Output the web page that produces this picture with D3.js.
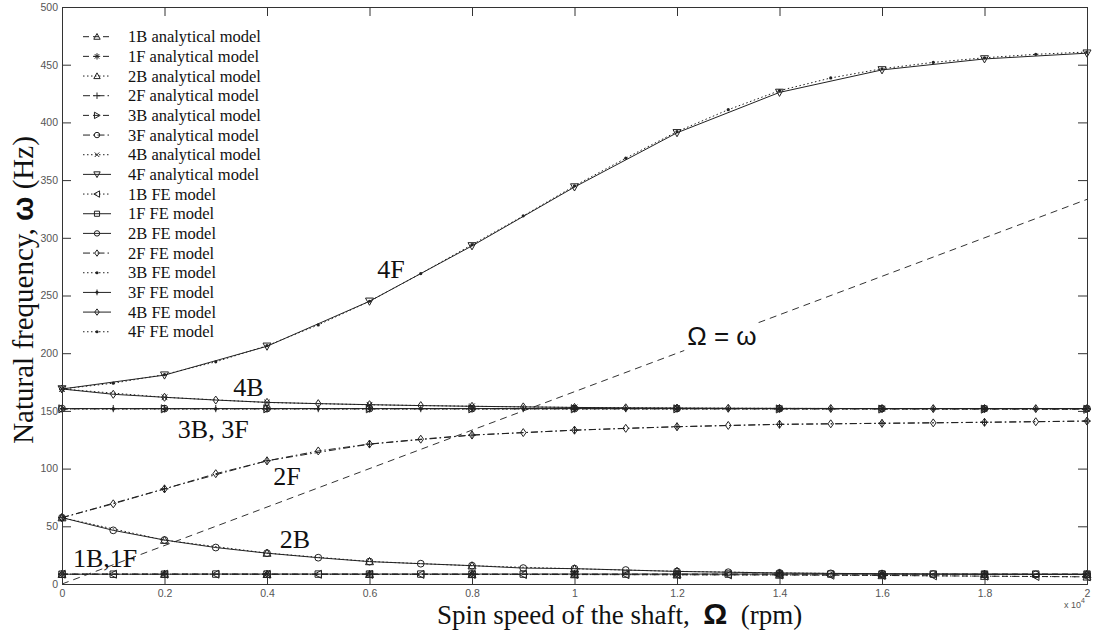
<!DOCTYPE html>
<html>
<head>
<meta charset="utf-8">
<script src="https://cdn.jsdelivr.net/npm/d3@7"></script>
<style>
  html, body { margin: 0; padding: 0; background: #fff; }
  svg { display: block; }
</style>
</head>
<body>
<svg id="chart" width="1093" height="634"></svg>
<script>
// ---------------- DATA ----------------
const rpmAnalytical = [0, 2000, 4000, 6000, 8000, 10000, 12000, 14000, 16000, 18000, 20000];
const rpmFE = [0, 1000, 2000, 3000, 4000, 5000, 6000, 7000, 8000, 9000, 10000,
               11000, 12000, 13000, 14000, 15000, 16000, 17000, 18000, 19000, 20000];

const an1B = [8.5, 8.5, 8.4, 8.4, 8.3, 8.2, 8.0, 7.8, 7.4, 6.8, 6.2];
const an1F = [8.5, 8.6, 8.6, 8.6, 8.6, 8.6, 8.6, 8.6, 8.6, 8.6, 8.6];
const an2B = [57.5, 38.0, 26.8, 19.5, 15.8, 13.2, 11.0, 9.6, 8.8, 8.4, 8.2];
const an2F = [57.5, 82.5, 106.8, 121.2, 129.0, 133.3, 136.3, 138.3, 139.3, 140.2, 141.2];
const an3B = [151.8, 151.8, 151.8, 151.8, 151.8, 151.8, 151.8, 151.7, 151.6, 151.5, 151.4];
const an3F = [152.0, 152.0, 152.0, 152.0, 152.0, 152.0, 152.0, 152.0, 152.0, 152.0, 152.0];
const an4B = [169.0, 161.8, 157.3, 155.3, 154.0, 153.0, 152.5, 152.2, 152.0, 151.9, 151.8];
const an4F = [169.0, 181.0, 206.0, 245.0, 293.0, 344.0, 391.0, 426.0, 445.5, 455.0, 460.0];

const fe1B = [8.5, 8.5, 8.5, 8.5, 8.4, 8.4, 8.3, 8.3, 8.3, 8.2, 8.2,
              8.1, 8.0, 7.9, 7.8, 7.6, 7.4, 7.1, 6.8, 6.5, 6.2];
const fe1F = [8.5, 8.5, 8.5, 8.6, 8.6, 8.6, 8.6, 8.6, 8.6, 8.6, 8.6,
              8.6, 8.6, 8.6, 8.6, 8.6, 8.6, 8.6, 8.6, 8.6, 8.6];
const fe2B = [57.5, 46.5, 38.1, 31.6, 26.7, 22.8, 19.4, 17.6, 15.9, 13.8, 13.3,
              12.1, 10.9, 10.2, 9.6, 9.2, 8.9, 8.6, 8.4, 8.3, 8.2];
const fe2F = [57.5, 69.5, 82.4, 95.6, 106.7, 115.3, 121.3, 125.5, 129.1, 131.2, 133.3,
              134.9, 136.3, 137.4, 138.4, 138.8, 139.2, 139.6, 140.1, 140.6, 141.2];
const fe3B = [151.6, 151.6, 151.6, 151.6, 151.6, 151.6, 151.6, 151.6, 151.6, 151.6, 151.6,
              151.6, 151.6, 151.6, 151.6, 151.6, 151.6, 151.6, 151.6, 151.6, 151.6];
const fe3F = [152.0, 152.0, 152.0, 152.0, 152.0, 152.0, 152.0, 152.0, 152.0, 152.0, 152.0,
              152.0, 152.0, 152.0, 152.0, 152.0, 152.0, 152.0, 152.0, 152.0, 152.0];
const fe4B = [169.0, 164.4, 161.8, 159.4, 157.4, 156.3, 155.4, 154.6, 154.0, 153.5, 153.0,
              152.7, 152.5, 152.3, 152.2, 152.1, 152.0, 152.0, 152.0, 152.0, 152.0];
const fe4F = [169.0, 174.0, 181.5, 192.5, 206.5, 224.5, 245.0, 269.0, 294.0, 319.0, 345.0,
              369.0, 392.0, 411.0, 427.5, 438.5, 446.5, 452.0, 456.0, 459.0, 461.0];

// Omega = omega reference line (rpm -> Hz)
const refRpm = [0, 20000];
const refHz = [0, 333.3];

const xTickValues = [0, 2000, 4000, 6000, 8000, 10000, 12000, 14000, 16000, 18000, 20000];
const xTickLabels = ["0", "0.2", "0.4", "0.6", "0.8", "1", "1.2", "1.4", "1.6", "1.8", "2"];
const yTickValues = [0, 50, 100, 150, 200, 250, 300, 350, 400, 450, 500];
const yTickLabels = ["0", "50", "100", "150", "200", "250", "300", "350", "400", "450", "500"];

const legendLabels = ["1B analytical model", "1F analytical model", "2B analytical model", "2F analytical model",
  "3B analytical model", "3F analytical model", "4B analytical model", "4F analytical model",
  "1B FE model", "1F FE model", "2B FE model", "2F FE model",
  "3B FE model", "3F FE model", "4B FE model", "4F FE model"];

const annotLabels = ["4F", "4B", "3B, 3F", "2F", "2B", "1B,1F"];
const annotRpm = [6150, 3340, 2260, 4120, 4250, 215];
const annotHz = [265, 163, 126.5, 85.8, 31.2, 14.7];

// ---------------- STYLE ----------------
const DASH = "6,4", DOT = "1.5,2.5", DASHDOT = "7,3,1.5,3", SOLID = null;
const series = [
  { x: rpmAnalytical, y: an1B, dash: DASH, marker: "triUp" },
  { x: rpmAnalytical, y: an1F, dash: DASH, marker: "star" },
  { x: rpmAnalytical, y: an2B, dash: DOT, marker: "triUp" },
  { x: rpmAnalytical, y: an2F, dash: DASHDOT, marker: "plus" },
  { x: rpmAnalytical, y: an3B, dash: DASH, marker: "triRight" },
  { x: rpmAnalytical, y: an3F, dash: DASHDOT, marker: "circle" },
  { x: rpmAnalytical, y: an4B, dash: DOT, marker: "cross" },
  { x: rpmAnalytical, y: an4F, dash: SOLID, marker: "triDown" },
  { x: rpmFE, y: fe1B, dash: DOT, marker: "triLeft" },
  { x: rpmFE, y: fe1F, dash: SOLID, marker: "square" },
  { x: rpmFE, y: fe2B, dash: SOLID, marker: "circle" },
  { x: rpmFE, y: fe2F, dash: DASHDOT, marker: "diamond" },
  { x: rpmFE, y: fe3B, dash: DOT, marker: "dot" },
  { x: rpmFE, y: fe3F, dash: SOLID, marker: "plusdot" },
  { x: rpmFE, y: fe4B, dash: SOLID, marker: "diamond" },
  { x: rpmFE, y: fe4F, dash: DOT, marker: "dot" }
];

// ---------------- CHART ----------------
const svg = d3.select("#chart");
const L = 62, R = 1087, T = 7, B = 584;
const x = d3.scaleLinear().domain([0, 20000]).range([L, R]);
const y = d3.scaleLinear().domain([0, 500]).range([B, T]);
const ink = "#222";

function markerPath(type, s) {
  switch (type) {
    case "triUp": return `M0,${-s}L${s},${s * 0.8}L${-s},${s * 0.8}Z`;
    case "triDown": return `M0,${s}L${s},${-s * 0.8}L${-s},${-s * 0.8}Z`;
    case "triLeft": return `M${-s},0L${s * 0.8},${-s}L${s * 0.8},${s}Z`;
    case "triRight": return `M${s},0L${-s * 0.8},${-s}L${-s * 0.8},${s}Z`;
    case "square": return `M${-s * 0.8},${-s * 0.8}H${s * 0.8}V${s * 0.8}H${-s * 0.8}Z`;
    case "diamond": return `M0,${-s}L${s * 0.7},0L0,${s}L${-s * 0.7},0Z`;
    case "circle": return d3.arc()({ innerRadius: 0, outerRadius: s * 0.85, startAngle: 0, endAngle: 2 * Math.PI });
    case "plus": return `M${-s},0H${s}M0,${-s}V${s}`;
    case "plusdot": return `M${-s * 0.6},0H${s * 0.6}M0,${-s * 0.9}V${s * 0.9}`;
    case "cross": return `M${-s * 0.7},${-s * 0.7}L${s * 0.7},${s * 0.7}M${-s * 0.7},${s * 0.7}L${s * 0.7},${-s * 0.7}`;
    case "star": return `M${-s},0H${s}M0,${-s}V${s}M${-s * 0.7},${-s * 0.7}L${s * 0.7},${s * 0.7}M${-s * 0.7},${s * 0.7}L${s * 0.7},${-s * 0.7}`;
    default: return "";
  }
}

function drawMarker(g, type, cx, cy, s) {
  if (type === "dot") {
    g.append("circle").attr("cx", cx).attr("cy", cy).attr("r", 1.6).attr("fill", ink);
    return;
  }
  g.append("path").attr("d", markerPath(type, s))
    .attr("transform", `translate(${cx},${cy})`)
    .attr("fill", "none").attr("stroke", ink).attr("stroke-width", 1);
  if (type === "plusdot") {
    g.append("circle").attr("cx", cx).attr("cy", cy).attr("r", 1.4).attr("fill", ink);
  }
}

svg.append("rect").attr("x", L).attr("y", T).attr("width", R - L).attr("height", B - T)
  .attr("fill", "#fff");

const plot = svg.append("g");
const line = d3.line();

// reference line Omega = omega
plot.append("path")
  .attr("d", line(refRpm.map((r, i) => [x(r), y(refHz[i])])))
  .attr("fill", "none").attr("stroke", "#333").attr("stroke-width", 1)
  .attr("stroke-dasharray", "7,5");

series.forEach(s => {
  const pts = s.x.map((r, i) => [x(r), y(s.y[i])]);
  const p = plot.append("path").attr("d", line(pts))
    .attr("fill", "none").attr("stroke", ink).attr("stroke-width", 1);
  if (s.dash) p.attr("stroke-dasharray", s.dash);
  const mg = plot.append("g");
  pts.forEach(([cx, cy]) => drawMarker(mg, s.marker, cx, cy, 4));
});

// axes (MATLAB-like box with inward ticks)
const tickLen = 9;
const axisG = svg.append("g");
const xAxisB = d3.axisBottom(x).tickValues(xTickValues).tickSize(-tickLen).tickPadding(6)
  .tickFormat((d, i) => xTickLabels[i]);
const xAxisT = d3.axisTop(x).tickValues(xTickValues).tickSize(-tickLen).tickFormat("");
const yAxisL = d3.axisLeft(y).tickValues(yTickValues).tickSize(-tickLen).tickPadding(4)
  .tickFormat((d, i) => yTickLabels[i]);
const yAxisR = d3.axisRight(y).tickValues(yTickValues).tickSize(-tickLen).tickFormat("");

function styleAxis(g) {
  g.select(".domain").attr("stroke", "#333");
  g.selectAll(".tick line").attr("stroke", "#333");
  g.selectAll(".tick text").attr("fill", "#555").style("font-family", "Arial, 'Liberation Sans', sans-serif")
    .style("font-size", "10.5px");
}
axisG.append("g").attr("transform", `translate(0,${B})`).call(xAxisB).call(styleAxis);
axisG.append("g").attr("transform", `translate(0,${T})`).call(xAxisT).call(styleAxis);
axisG.append("g").attr("transform", `translate(${L},0)`).call(yAxisL).call(styleAxis);
axisG.append("g").attr("transform", `translate(${R},0)`).call(yAxisR).call(styleAxis);

// exponent label
const expo = svg.append("text").attr("x", 1064).attr("y", 608)
  .attr("fill", "#555").style("font-family", "Arial, 'Liberation Sans', sans-serif").style("font-size", "9px");
expo.append("tspan").text("x 10");
expo.append("tspan").attr("dy", -5).style("font-size", "7px").text("4");

// axis titles
const serif = "'Liberation Serif', 'Times New Roman', serif";
const sans = "'Liberation Sans', Arial, sans-serif";
const xt = svg.append("text").attr("x", 437).attr("y", 624).attr("fill", "#111")
  .style("font-family", serif).style("font-size", "27px").style("white-space", "pre");
xt.append("tspan").text("Spin speed of the shaft,  ");
xt.append("tspan").style("font-family", sans).style("font-weight", "bold").style("font-size", "30px").text("Ω");
xt.append("tspan").text("  (rpm)");

const yt = svg.append("text").attr("transform", "translate(33,290) rotate(-90)").attr("fill", "#111")
  .attr("text-anchor", "middle")
  .style("font-family", serif).style("font-size", "29px");
yt.append("tspan").text("Natural frequency, ");
yt.append("tspan").style("font-family", sans).style("font-weight", "bold").text("ω");
yt.append("tspan").text(" (Hz)");

// annotations
annotLabels.forEach((t, i) => {
  svg.append("text").attr("x", x(annotRpm[i])).attr("y", y(annotHz[i]))
    .attr("fill", "#111").style("font-family", serif).style("font-size", "26px").text(t);
});
const omegaLabel = svg.append("text").attr("x", x(12200)).attr("y", y(207)).attr("fill", "#111")
  .style("font-family", sans).style("font-size", "26px").text("Ω = ω");
const ob = omegaLabel.node().getBBox();
svg.insert("rect", () => omegaLabel.node())
  .attr("x", ob.x - 3).attr("y", ob.y + 2).attr("width", ob.width + 6).attr("height", ob.height - 2)
  .attr("fill", "#fff");

// legend
const lg = svg.append("g");
legendLabels.forEach((t, i) => {
  const s = series[i];
  const cy = 36.7 + i * 19.67;
  const l = lg.append("line").attr("x1", 83).attr("x2", 111).attr("y1", cy).attr("y2", cy)
    .attr("stroke", ink).attr("stroke-width", 1);
  if (s.dash) l.attr("stroke-dasharray", s.dash);
  drawMarker(lg, s.marker, 97, cy, 3.2);
  lg.append("text").attr("x", 128).attr("y", cy + 5.5).attr("fill", "#111")
    .style("font-family", serif).style("font-size", "16.5px").text(t);
});
</script>
</body>
</html>
